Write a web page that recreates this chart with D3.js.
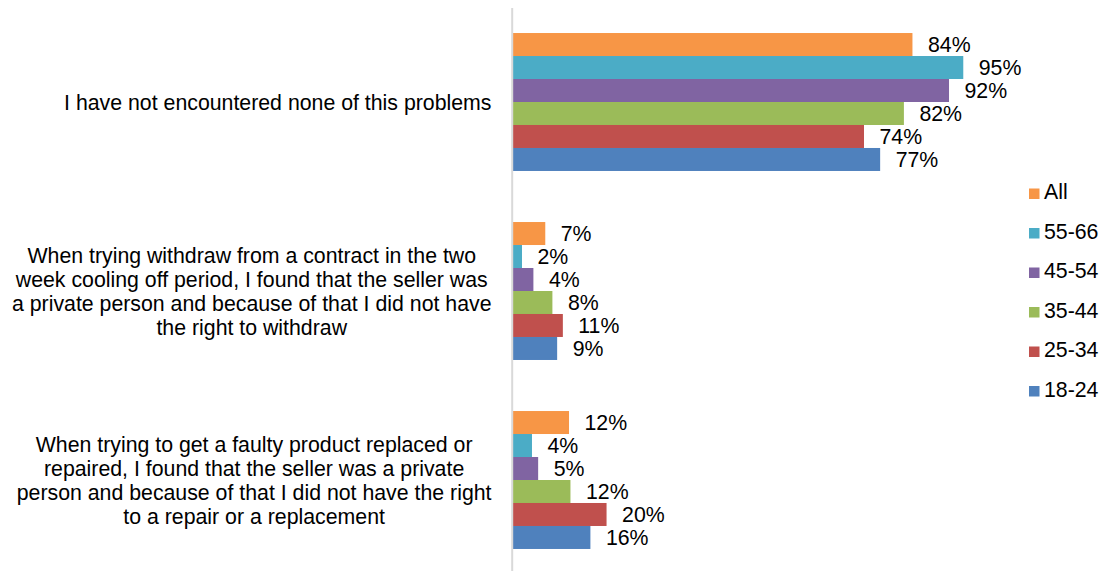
<!DOCTYPE html>
<html>
<head>
<meta charset="utf-8">
<script src="https://cdn.jsdelivr.net/npm/d3@7"></script>
<style>
  html, body { margin: 0; padding: 0; background: #fff; }
  svg { display: block; }
  text { font-family: "Liberation Sans", Arial, sans-serif; fill: #000; }
</style>
</head>
<body>
<svg id="chart" width="1104" height="571"></svg>
<script>
// ---- data ----
const categories = [
  "I have not encountered none of this problems",
  "When trying withdraw from a contract in the two week cooling off period, I found that the seller was a private person and because of that I did not have the right to withdraw",
  "When trying to get a faulty product replaced or repaired, I found that the seller was a private person and because of that I did not have the right to a repair or a replacement"
];
const categoryLines = [
  ["I have not encountered none of this problems"],
  ["When trying withdraw from a contract in the two",
   "week cooling off period, I found that the seller was",
   "a private person and because of that I did not have",
   "the right to withdraw"],
  ["When trying to get a faulty product replaced or",
   "repaired, I found that the seller was a private",
   "person and because of that I did not have the right",
   "to a repair or a replacement"]
];
const seriesNames = ["All", "55-66", "45-54", "35-44", "25-34", "18-24"];
const seriesColors = ["#F79646", "#4BACC6", "#8064A2", "#9BBB59", "#C0504D", "#4F81BD"];
// values (%) per series, in category order
const valuesAll   = [84.2, 6.9, 11.9];
const values5566  = [94.9, 2.0, 4.1];
const values4554  = [91.9, 4.4, 5.4];
const values3544  = [82.4, 8.4, 12.2];
const values2534  = [74.0, 10.6, 19.8];
const values1824  = [77.4, 9.4, 16.4];
const seriesValues = [valuesAll, values5566, values4554, values3544, values2534, values1824];

// ---- layout ----
const svg = d3.select("#chart");
const axisX = 511.7;
const fontSize = 21.3;

const x = d3.scaleLinear().domain([0, 100]).range([axisX + 0.8, axisX + 0.8 + 475]);
const y0 = d3.scaleBand().domain(categories).range([7.5, 574.5]).padding(0);
const y1 = d3.scaleBand().domain(seriesNames).range([0, y0.bandwidth()])
  .paddingInner(0).paddingOuter(1.11);
const color = d3.scaleOrdinal().domain(seriesNames).range(seriesColors);
const fmt = v => Math.round(v) + "%";

const rows = [];
categories.forEach((c, ci) => {
  seriesNames.forEach((s, si) => {
    rows.push({cat: c, ci, series: s, value: seriesValues[si][ci]});
  });
});

// bars
svg.append("g").selectAll("rect").data(rows).join("rect")
  .attr("x", x(0))
  .attr("y", d => y0(d.cat) + y1(d.series))
  .attr("width", d => x(d.value) - x(0))
  .attr("height", y1.bandwidth())
  .attr("fill", d => color(d.series));

// data labels
svg.append("g").selectAll("text").data(rows).join("text")
  .attr("x", d => x(d.value) + 15.5)
  .attr("y", d => y0(d.cat) + y1(d.series) + y1.bandwidth() / 2 + 7.7)
  .attr("font-size", fontSize)
  .text(d => fmt(d.value));

// axis
const axis = d3.axisLeft(y0).tickSize(0).tickFormat("");
const gAxis = svg.append("g").attr("transform", `translate(${axisX},0)`).call(axis);
gAxis.select(".domain").attr("stroke", "#d9d9d9").attr("stroke-width", 2);

// category labels (multi-line, centered within block, block right-aligned)
const labelRight = 491.5;
const lineH = 24;
categories.forEach((c, ci) => {
  const lines = categoryLines[ci];
  const g = svg.append("g");
  const center = y0(c) + y0.bandwidth() / 2;
  const texts = lines.map((ln, i) => g.append("text")
    .attr("font-size", fontSize)
    .attr("text-anchor", "middle")
    .attr("y", center + (i - (lines.length - 1) / 2) * lineH + 7.5)
    .text(ln));
  const maxW = d3.max(texts, t => t.node().getComputedTextLength());
  texts.forEach(t => t.attr("x", labelRight - maxW / 2));
});

// legend
const legend = svg.append("g");
seriesNames.forEach((s, i) => {
  const base = 199 + i * 39.5;
  legend.append("rect")
    .attr("x", 1029).attr("y", base - 10.5)
    .attr("width", 10.5).attr("height", 10.5)
    .attr("fill", color(s));
  legend.append("text")
    .attr("x", 1044).attr("y", base)
    .attr("font-size", fontSize)
    .text(s);
});
</script>
</body>
</html>
